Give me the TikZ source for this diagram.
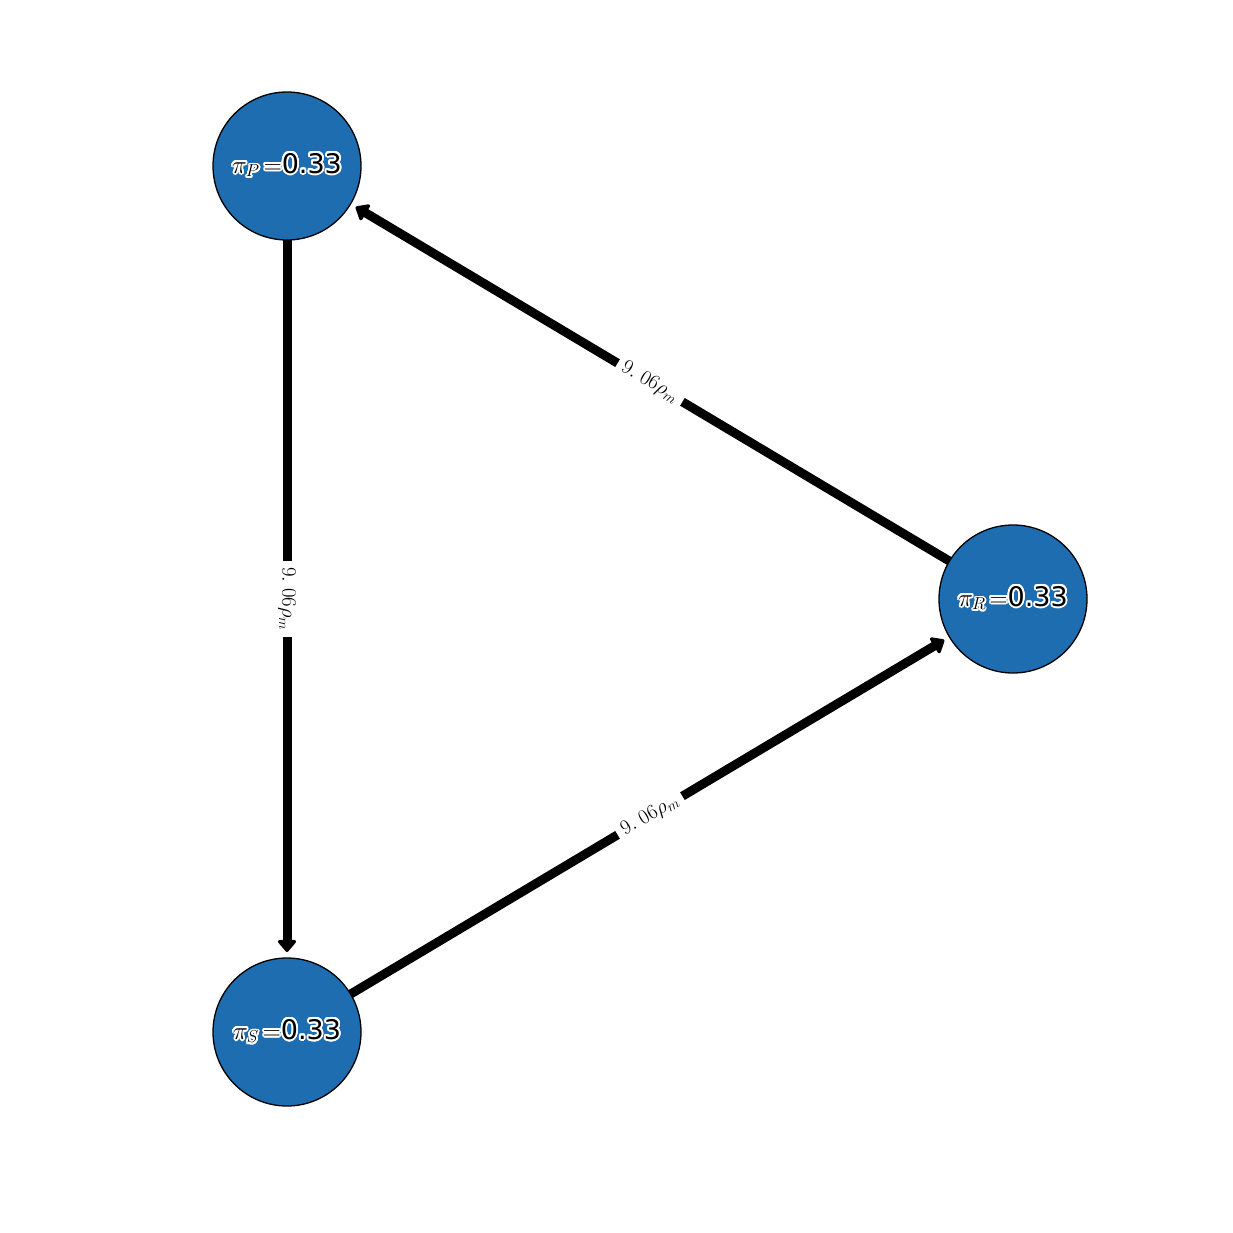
\documentclass[tikz,border=0pt]{standalone}
\usepackage{fontspec}
\setmainfont{DejaVu Sans}
\usepackage[copies]{contour}
\contourlength{1.8pt}
\contournumber{24}
\usetikzlibrary{arrows.meta}
\definecolor{nodeblue}{RGB}{31,109,177}
\tikzset{
  state/.style={circle, draw=black, line width=1.3pt, fill=nodeblue, minimum size=148pt, inner sep=0pt, outer sep=0pt, font=\fontsize{27}{31}\selectfont},
  edge/.style={line width=9pt, -{Triangle[round, length=13pt, width=21pt]}, shorten >=6pt},
  elabel/.style={fill=white, inner sep=6pt, font=\fontsize{20}{24}\selectfont}
}
\newcommand{\statelabel}[1]{\contour{white}{$\pi_{#1}\,{=}$0.33}}
\begin{document}
\begin{tikzpicture}[x=1pt,y=-1pt]
\useasboundingbox (0,0) rectangle (1232,1233);
\node[state] (P) at (287,166) {\statelabel{P}};
\node[state] (R) at (1013,599) {\statelabel{R}};
\node[state] (S) at (287,1032) {\statelabel{S}};
\draw[edge] (P) -- (S) node[midway, elabel, rotate=-90] {$9.\;06\rho_m$};
\draw[edge] (R) -- (P) node[midway, elabel, rotate=-30.8] {$9.\;06\rho_m$};
\draw[edge] (S) -- (R) node[midway, elabel, rotate=30.8] {$9.\;06\rho_m$};
\end{tikzpicture}
\end{document}
